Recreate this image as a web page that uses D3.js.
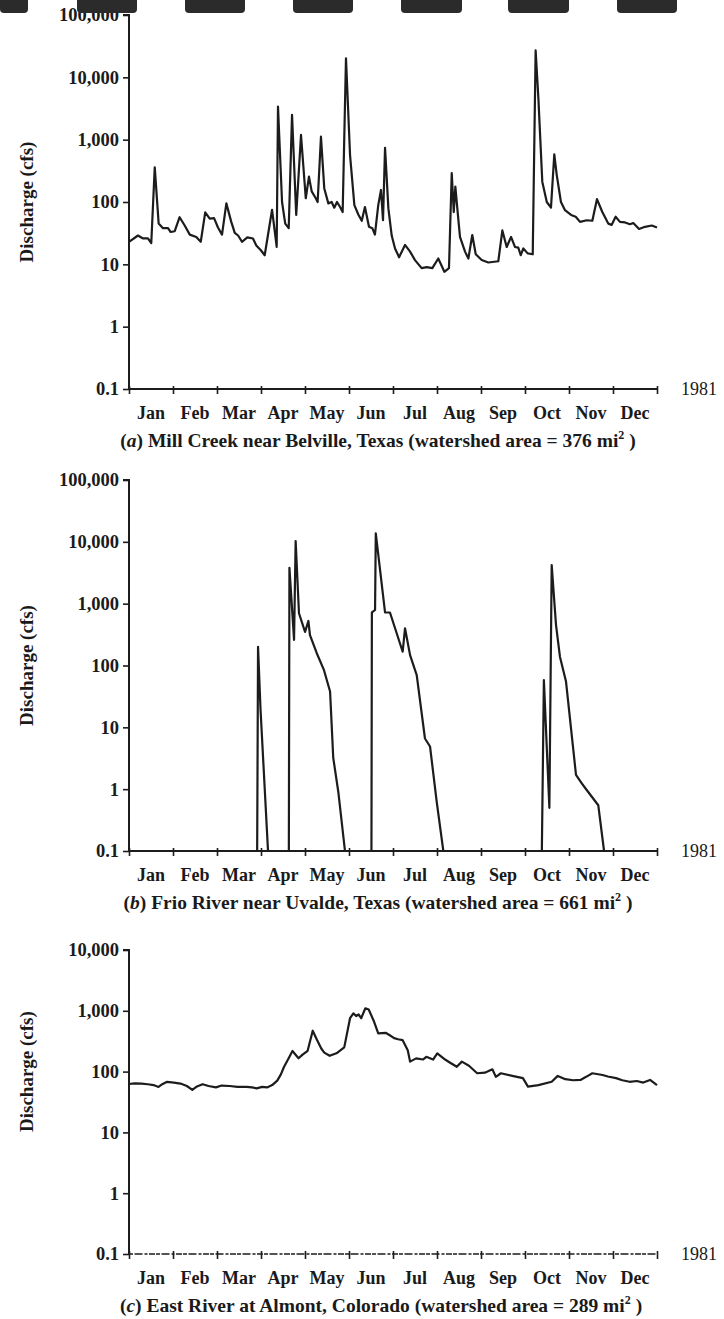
<!DOCTYPE html>
<html>
<head>
<meta charset="utf-8">
<script src="https://cdn.jsdelivr.net/npm/d3@7"></script>
<style>
  html, body { margin: 0; padding: 0; background: #fff; }
  svg { display: block; }
  text { font-family: "Liberation Serif", "Times New Roman", serif; fill: #1a1a1a; }
</style>
</head>
<body>
<svg id="chart" width="724" height="1319"></svg>
<script>
// ---------------- DATA ----------------
const months = ["Jan","Feb","Mar","Apr","May","Jun","Jul","Aug","Sep","Oct","Nov","Dec"];
const yearLabel = "1981";
const yAxisTitle = "Discharge (cfs)";
const ticksAB = [0.1, 1, 10, 100, 1000, 10000, 100000];
const ticksC = [0.1, 1, 10, 100, 1000, 10000];

// [day of year, discharge cfs]
const millCreek = [
  [0,23],[6.2,29],[9.7,26],[13.1,26],[15.4,22],[17.8,360],[20.5,45],[23.5,38],[27,38],[28.8,33],
  [31.6,34],[35,57],[38.5,42],[42,30],[46.5,27.5],[49.6,23],[52.7,68],[55.8,54],[58.8,55],[61.5,39],
  [64.3,30],[67.3,95],[70.7,48],[73.1,32],[75.4,29],[78.1,23],[81.8,27],[85.7,26],[88,20],[91,17],
  [93.8,14],[98.9,75],[102.1,19],[103,3380],[105.8,100],[108,45],[110.4,38],[112.7,2500],[115.6,62],
  [118.9,1190],[122.2,115],[124.4,255],[126.3,148],[129.1,115],[130.4,100],[132.7,1115],[135,165],
  [137.8,95],[140.1,100],[141.9,81],[143.8,100],[145.9,83],[147.7,69],[150,20200],[152.8,567],
  [155.8,89],[158.5,63],[160.9,50],[163.1,83],[165.9,40],[168.2,38],[170,30],[172.3,89],[174.2,156],
  [175.6,51],[177,740],[179.3,79],[181.6,29],[183.9,18],[186.7,13],[190.8,20.5],[194.3,16],
  [197.7,11.7],[202.3,8.7],[205.8,9],[209.7,8.7],[213.8,12.4],[218,7.6],[221.2,8.7],[223.1,290],
  [224.5,69],[225.6,176],[227.2,69],[228.8,27.5],[232.3,16],[234.6,12.4],[237.3,29.5],[239.7,14.5],
  [243.8,11.7],[248.4,10.7],[255.3,11.2],[258.1,35],[261.1,19],[264.1,27.5],[266.8,19],[269.1,18.5],
  [270.8,14],[272.6,18],[275.6,15],[279.1,14.5],[281.1,27000],[283,4600],[285.7,212],[288.8,100],
  [291.7,81],[294,582],[295.7,270],[298.6,100],[301.4,74],[305.6,62],[308.8,58],[311.8,48],
  [316.4,51],[320.3,50],[323.5,111],[327.2,69],[331.3,45],[333.7,43],[336.4,58],[339.4,48],
  [342.9,47],[346.3,44],[348.6,46],[352.6,37],[356.7,40],[361.4,42],[365,39]
];

const frioRiver = [
  [0,0.1],[88.6,0.1],[89.2,200],[90.9,20],[96.1,0.1],
  [110.5,0.1],[110.9,3800],[114.1,260],[115.2,10300],[117.5,700],[121.7,350],[124,525],[125.1,310],
  [129.8,158],[134.8,84],[139,38],[141.2,3.2],[144.7,0.9],[149.3,0.1],
  [167.6,0.1],[167.9,720],[170.1,790],[170.6,13700],[177,720],[180.4,720],[189.2,167],[190.8,400],
  [194.3,147],[198.9,70],[204.6,6.6],[208.1,4.9],[212.7,0.63],[217.3,0.1],
  [285.4,0.1],[286.8,58],[290.6,0.5],[292.2,4200],[295.2,450],[297.9,139],[302.1,55],[309,1.7],
  [313,1.24],[316.4,0.97],[324.4,0.55],[328.4,0.1],[365,0.1]
];

const eastRiver = [
  [0,62.5],[4,64],[8.7,63.5],[13,62],[17,60],[20.4,56],[23,62],[26.3,68],[31,66],[35.6,63.5],
  [40,58],[43.8,50],[47,57],[50.9,62],[55,58],[60.1,55],[64,59],[69.6,58],[75,56],[81.3,56],
  [85,55],[88.3,53],[92,56],[95.4,55],[99,60],[102.5,71],[105,90],[107.2,120],[110,160],[113,218],
  [117.2,166],[120,190],[123.5,220],[127,470],[130,330],[132.9,240],[135,205],[138.7,182],
  [143.4,200],[148.8,250],[152.8,755],[155.1,910],[157,820],[158.7,870],[160.5,755],[163.4,1100],
  [165.7,1050],[169,700],[172.3,425],[177.4,435],[180,400],[183.3,355],[186,340],[189.1,330],
  [192.7,225],[194.3,146],[198.5,165],[203.2,158],[205.5,175],[210.2,158],[213.1,200],[218.5,158],
  [222,140],[226.6,120],[230.1,146],[235,125],[240.7,94],[246,96],[251.2,109],[253.6,82],
  [257.1,94],[265,85],[272.3,78],[275.8,56.5],[283,60],[292.2,68],[296.4,85],[301.6,75],
  [307,72],[312.1,73],[316,82],[320.3,94],[327.4,88],[331,83],[336.7,78],[341,72],[346.1,68],
  [351,70],[355.5,66],[360.2,73],[365,60]
];

// ---------------- DRAW ----------------
const svg = d3.select("#chart");
const FONT = '"Liberation Serif", "Times New Roman", serif';
const ink = "#1c1c1c";

const x = d3.scaleLinear().domain([0, 365]).range([129, 657]);
const monthStarts = d3.range(13).map(i => i * 365 / 12);

function fmtTick(v) { return v < 1 ? "0.1" : d3.format(",")(v); }

function panel(opts) {
  const g = svg.append("g");
  const y = d3.scaleLog().domain(opts.domain).range(opts.range);
  const y0 = opts.range[0];

  // y axis
  const yAxis = d3.axisLeft(y).tickValues(opts.ticks).tickFormat(fmtTick).tickSize(6).tickPadding(4);
  const ya = g.append("g").attr("transform", `translate(${x(0)},0)`).call(yAxis);
  ya.select(".domain").attr("stroke", ink).attr("stroke-width", 2).attr("d", `M-6,${y(opts.domain[1])}H0V${y0}`);
  ya.selectAll(".tick line").attr("stroke", ink).attr("stroke-width", 1.6);
  ya.selectAll(".tick text").attr("font-family", FONT).attr("font-weight", "bold").attr("font-size", 18.5).attr("fill", ink);

  // x axis
  const xAxis = d3.axisBottom(x).tickValues(monthStarts).tickFormat("").tickSize(5);
  const xa = g.append("g").attr("transform", `translate(0,${y0})`).call(xAxis);
  xa.select(".domain").attr("stroke", ink).attr("stroke-width", opts.dashedBase ? 1.6 : 2)
    .attr("stroke-dasharray", opts.dashedBase ? "4,1.5,8,2,3,1.5,6,1" : null)
    .attr("d", `M${x(0)},0H${x(365)}`);
  xa.selectAll(".tick line").attr("stroke", ink).attr("stroke-width", 1.6).attr("y1", -3);

  // month labels
  g.append("g").selectAll("text").data(months).join("text")
    .attr("x", (d, i) => x((i + 0.5) * 365 / 12))
    .attr("y", y0 + 30)
    .attr("text-anchor", "middle")
    .attr("font-weight", "bold").attr("font-size", 18)
    .text(d => d);

  // year label
  g.append("text").attr("x", x(365) + 24).attr("y", y0 + 6)
    .attr("font-size", 18).text(yearLabel);

  // y title
  g.append("text")
    .attr("transform", `translate(33,${y(100)}) rotate(-90)`)
    .attr("text-anchor", "middle").attr("font-weight", "bold").attr("font-size", 19)
    .text(yAxisTitle);

  // series
  const line = d3.line().x(d => x(d[0])).y(d => y(d[1]));
  g.append("path").datum(opts.data).attr("d", line)
    .attr("fill", "none").attr("stroke", ink).attr("stroke-width", 2.2)
    .attr("stroke-linejoin", "round");

  // caption
  const cap = g.append("text").attr("x", (x(0) + x(365)) / 2 + opts.capShift).attr("y", y0 + 58)
    .attr("text-anchor", "middle").attr("font-weight", "bold").attr("font-size", 19.5);
  cap.append("tspan").text("(");
  cap.append("tspan").attr("font-style", "italic").text(opts.letter);
  cap.append("tspan").text(") " + opts.caption + " mi");
  cap.append("tspan").attr("font-size", 12).attr("dy", -8).text("2");
  cap.append("tspan").attr("dy", 8).text(" )");
}

panel({ domain: [0.1, 100000], range: [389, 15], ticks: ticksAB, data: millCreek,
        letter: "a", caption: "Mill Creek near Belville, Texas (watershed area = 376", capShift: -15 });
panel({ domain: [0.1, 100000], range: [851, 480], ticks: ticksAB, data: frioRiver,
        letter: "b", caption: "Frio River near Uvalde, Texas (watershed area = 661", capShift: -15 });
panel({ domain: [0.1, 10000], range: [1254, 950], ticks: ticksC, data: eastRiver, dashedBase: true,
        letter: "c", caption: "East River at Almont, Colorado (watershed area = 289", capShift: -12 });

// scan artifacts along the top edge (binder punch shadows)
const punchMarks = [[0,28],[77,137],[185,245],[293,353],[401,462],[508,569],[617,677]];
svg.append("g").selectAll("rect").data(punchMarks).join("rect")
  .attr("x", d => d[0]).attr("y", -6).attr("width", d => d[1] - d[0]).attr("height", 19)
  .attr("rx", 4).attr("fill", "#2b2b2b");
</script>
</body>
</html>
